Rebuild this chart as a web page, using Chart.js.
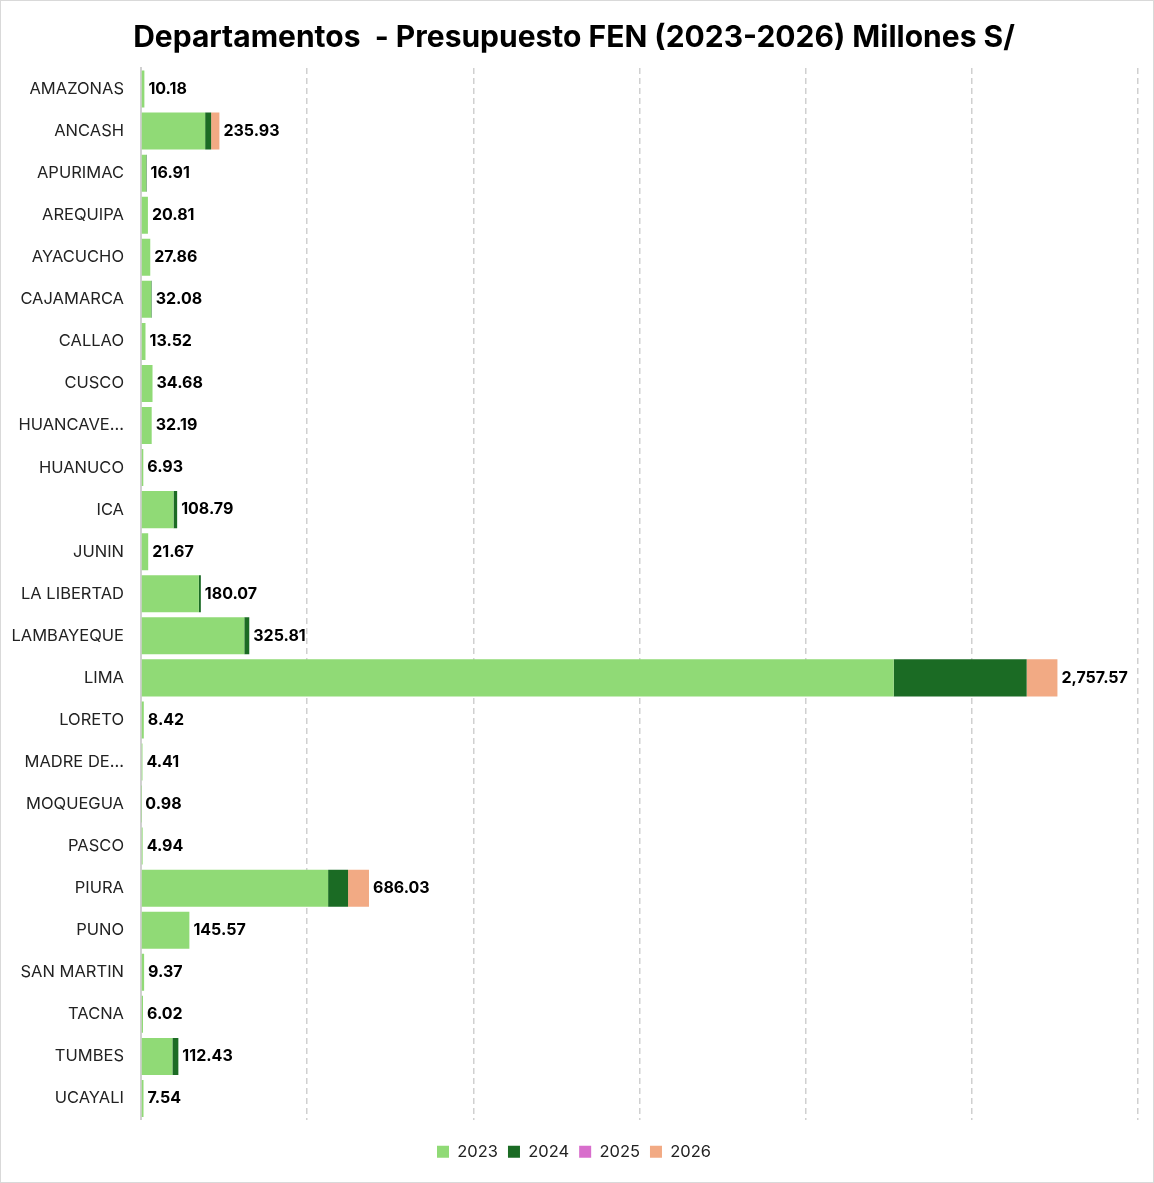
<!DOCTYPE html>
<html>
<head>
<meta charset="utf-8">
<script src="https://cdn.jsdelivr.net/npm/chart.js@4"></script>
<style>
html,body{margin:0;padding:0;background:#fff;}
#wrap{position:relative;width:1154px;height:1183px;box-sizing:border-box;border:1px solid #d9d9d9;}
canvas{display:block;}
</style>
</head>
<body>
<div id="wrap"><canvas id="c" width="1152" height="1181"></canvas></div>
<script>
const categories = ["AMAZONAS","ANCASH","APURIMAC","AREQUIPA","AYACUCHO","CAJAMARCA","CALLAO","CUSCO","HUANCAVE…","HUANUCO","ICA","JUNIN","LA LIBERTAD","LAMBAYEQUE","LIMA","LORETO","MADRE DE…","MOQUEGUA","PASCO","PIURA","PUNO","SAN MARTIN","TACNA","TUMBES","UCAYALI"];
const v2023 = [10.18,193,15.41,20.81,27.86,30.58,13.52,34.68,32.19,6.93,97.79,21.67,174.07,310.81,2265,8.42,4.41,0.98,4.94,563,145.57,9.37,6.02,94.43,7.54];
const v2024 = [0,18,1.5,0,0,1.5,0,0,0,0,11,0,6,15,400,0,0,0,0,60,0,0,0,18,0];
const v2025 = [0,0,0,0,0,0,0,0,0,0,0,0,0,0,0,0,0,0,0,0,0,0,0,0,0];
const v2026 = [0,24.93,0,0,0,0,0,0,0,0,0,0,0,0,92.57,0,0,0,0,63.03,0,0,0,0,0];
const totals = [10.18,235.93,16.91,20.81,27.86,32.08,13.52,34.68,32.19,6.93,108.79,21.67,180.07,325.81,2757.57,8.42,4.41,0.98,4.94,686.03,145.57,9.37,6.02,112.43,7.54];
const seriesNames = ["2023","2024","2025","2026"];
const xTicks = [0,500,1000,1500,2000,2500,3000];

const colors = ["#90DA76","#1B6B24","#D86ECC","#F2AA84"];
const fontFam = "Inter, 'Open Sans', 'DejaVu Sans', sans-serif";

const totalLabels = {
  id:'totalLabels',
  afterDatasetsDraw(chart){
    const ctx = chart.ctx;
    const xs = chart.scales.x, ys = chart.scales.y;
    ctx.save();
    ctx.font = "bold 16px " + fontFam;
    ctx.fillStyle = "#000";
    ctx.textBaseline = "middle";
    ctx.textAlign = "left";
    const fmt = new Intl.NumberFormat('en-US',{minimumFractionDigits:2,maximumFractionDigits:2});
    totals.forEach((t,i)=>{
      const x = xs.getPixelForValue(t) + 4;
      const y = ys.getPixelForValue(i);
      ctx.fillText(fmt.format(t), x, y);
    });
    ctx.restore();
  }
};

const dataArrays = [v2023,v2024,v2025,v2026];
new Chart(document.getElementById('c'), {
  type:'bar',
  data:{
    labels:categories,
    datasets: seriesNames.map((n,i)=>({
      label:n, data:dataArrays[i], backgroundColor:colors[i], borderWidth:0,
      barPercentage:0.88, categoryPercentage:1.0
    }))
  },
  options:{
    responsive:false,
    animation:false,
    indexAxis:'y',
    layout:{padding:{top:6,left:9,right:15,bottom:12}},
    plugins:{
      title:{display:true,text:"Departamentos  - Presupuesto FEN (2023-2026) Millones S/",
        font:{family:fontFam,size:30,weight:'bold'},color:"#000",padding:{top:13,bottom:12}},
      legend:{position:'bottom',
        labels:{font:{family:fontFam,size:16.5},color:"#222",boxWidth:12,boxHeight:12,padding:10}},
      tooltip:{enabled:false}
    },
    scales:{
      x:{stacked:true,min:0,max:3000,
        afterBuildTicks(s){ s.ticks = xTicks.map(v=>({value:v})); },
        afterFit(s){ s.height = 14; },
        ticks:{display:false},
        border:{display:false,dash:[6,4]},
        grid:{drawTicks:false,lineWidth:1.5,
          color:(c)=> c.tick && c.tick.value===0 ? 'rgba(0,0,0,0)' : '#d0d0d0'},
      },
      y:{stacked:true,
        afterFit(s){ s.width = 131; },
        ticks:{font:{family:fontFam,size:16.5},color:"#222",padding:17,autoSkip:false},
        grid:{display:false,drawTicks:false},
        border:{display:true,color:'#d0d0d0',width:2}
      }
    }
  },
  plugins:[totalLabels]
});
</script>
</body>
</html>
